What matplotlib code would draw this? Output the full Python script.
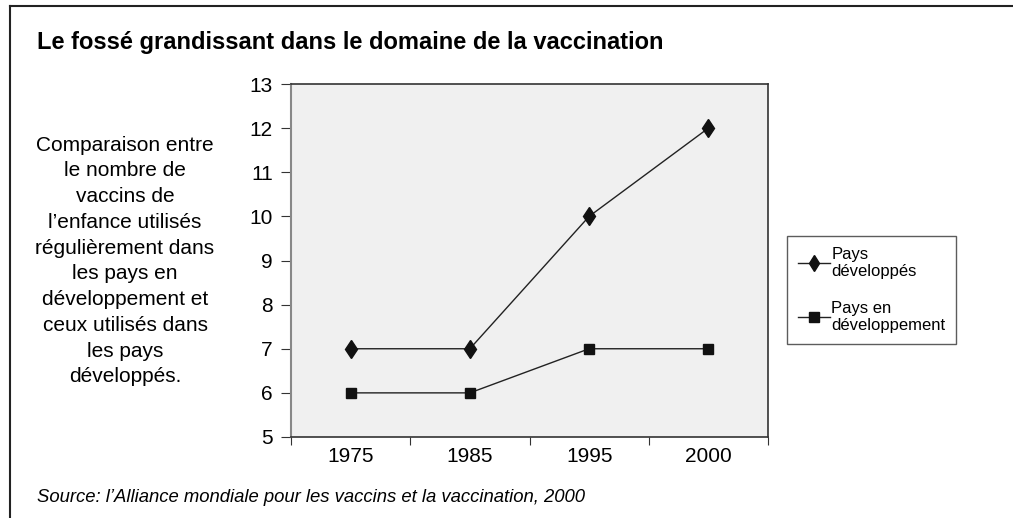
import numpy as np
import matplotlib.pyplot as plt
from matplotlib.lines import Line2D

plt.rcParams['font.family'] = ['Liberation Sans', 'DejaVu Sans']

# Data
years = ["1975", "1985", "1995", "2000"]
pays_developpes = [7, 7, 10, 12]
pays_en_developpement = [6, 6, 7, 7]

title = "Le fossé grandissant dans le domaine de la vaccination"
side_text = ("Comparaison entre\nle nombre de\nvaccins de\nl\u2019enfance utilisés\n"
             "régulièrement dans\nles pays en\ndéveloppement et\nceux utilisés dans\n"
             "les pays\ndéveloppés.")
source = "Source: l\u2019Alliance mondiale pour les vaccins et la vaccination, 2000"

W, H = 1013, 518
fig = plt.figure(figsize=(W / 100, H / 100), dpi=100)
fig.patch.set_facecolor("white")

# outer frame (top and left edges only visible)
fig.add_artist(Line2D([10 / W, 1], [1 - 6 / H, 1 - 6 / H], color="#222222", lw=1.5))
fig.add_artist(Line2D([10 / W, 10 / W], [0, 1 - 6 / H], color="#222222", lw=1.5))

ax = fig.add_axes([291 / W, 1 - 437 / H, 477 / W, 353 / H])
ax.set_facecolor("#f0f0f0")

x = np.arange(len(years))
ax.plot(x, pays_developpes, color="#222222", lw=1, marker="d", markersize=9.5,
        markerfacecolor="#111111", markeredgecolor="#111111", label="Pays\ndéveloppés")
ax.plot(x, pays_en_developpement, color="#222222", lw=1, marker="s", markersize=7.5,
        markerfacecolor="#111111", markeredgecolor="#111111", label="Pays en\ndéveloppement")

ax.set_xlim(-0.5, len(years) - 0.5)
ax.set_ylim(5, 13)
ax.set_yticks(range(5, 14))
ax.set_xticks(np.arange(-0.5, len(years)), labels=[])
ax.set_xticks(x, labels=years, minor=True)
ax.tick_params(axis="x", which="major", direction="out", length=6, color="#333333")
ax.tick_params(axis="x", which="minor", length=0, pad=7, labelsize=15)
ax.tick_params(axis="y", direction="out", length=7, color="#333333", labelsize=15, pad=6)

for side in ["top", "right", "bottom"]:
    ax.spines[side].set_color("#333333")
    ax.spines[side].set_linewidth(1.2)
ax.spines["left"].set_color("#888888")
ax.spines["left"].set_linewidth(1.5)

leg = ax.legend(loc="upper left", bbox_to_anchor=(787 / W, 1 - 236 / H),
                bbox_transform=fig.transFigure, fontsize=12, frameon=True,
                fancybox=False, edgecolor="#333333", handlelength=1.9,
                handletextpad=0.1, labelspacing=1.3, borderpad=0.65, borderaxespad=0,
                markerscale=0.9)
leg.get_frame().set_linewidth(1)

fig.text(37 / W, 1 - 42 / H, title, fontsize=17, fontweight="bold", va="center", ha="left")
fig.text(125 / W, 1 - 261 / H, side_text, fontsize=15, ha="center", va="center",
         linespacing=1.45)
fig.text(37 / W, 1 - 497 / H, source, fontsize=13.3, style="italic", va="center", ha="left")

fig.savefig("out.png", dpi=100)
